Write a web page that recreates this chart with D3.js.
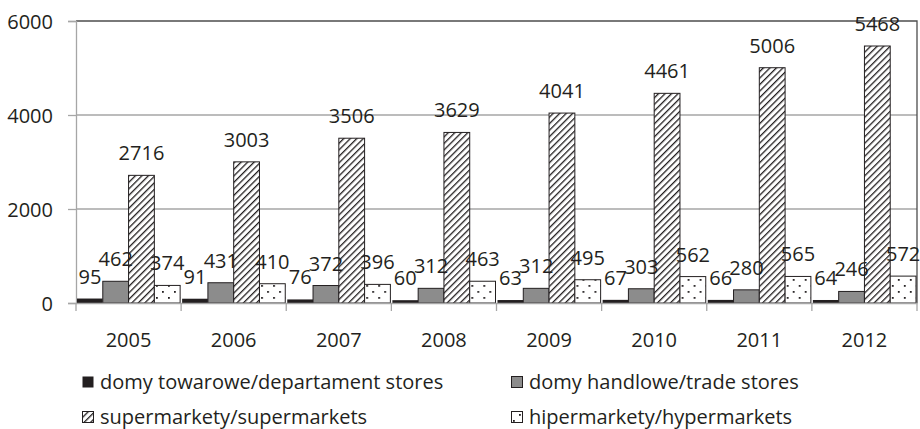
<!DOCTYPE html>
<html lang="pl">
<head>
  <meta charset="UTF-8">
  <title>Sklepy wielkopowierzchniowe 2005-2012</title>
  <script src="https://d3js.org/d3.v7.min.js"></script>
  <style>
    body {
      margin: 0;
      background: #fff;
      font-family: "Open Sans", sans-serif;
    }
    svg text {
      fill: #231f20;
    }
  </style>
</head>
<body>
  <div id="chart"></div>
  <script>
    // data
    const years = ["2005", "2006", "2007", "2008", "2009", "2010", "2011", "2012"];
    const seriesNames = [
      "domy towarowe/departament stores",
      "domy handlowe/trade stores",
      "supermarkety/supermarkets",
      "hipermarkety/hypermarkets"
    ];
    const departmentStores = [95, 91, 76, 60, 63, 67, 66, 64];
    const tradeStores = [462, 431, 372, 312, 312, 303, 280, 246];
    const supermarkets = [2716, 3003, 3506, 3629, 4041, 4461, 5006, 5468];
    const hypermarkets = [374, 410, 396, 463, 495, 562, 565, 572];
    const yTicks = [0, 2000, 4000, 6000];

    const seriesValues = [departmentStores, tradeStores, supermarkets, hypermarkets];
    const fills = ["#231f20", "#8c8c8c", "url(#hatch)", "url(#dots)"];

    const width = 920, height = 429;
    const margin = { top: 21, right: 3, bottom: 126, left: 76 };
    const fontSize = "20px";

    const svg = d3.select("#chart")
      .append("svg")
      .attr("width", width)
      .attr("height", height);

    // patterns
    const defs = svg.append("defs");
    const hatch = defs.append("pattern")
      .attr("id", "hatch")
      .attr("patternUnits", "userSpaceOnUse")
      .attr("width", 4.6)
      .attr("height", 4.6)
      .attr("patternTransform", "rotate(45)");
    hatch.append("rect").attr("width", 4.6).attr("height", 4.6).attr("fill", "#fff");
    hatch.append("line")
      .attr("x1", 0).attr("y1", 0).attr("x2", 0).attr("y2", 4.6)
      .attr("stroke", "#231f20")
      .attr("stroke-width", 2.6);

    const dots = defs.append("pattern")
      .attr("id", "dots")
      .attr("patternUnits", "userSpaceOnUse")
      .attr("width", 12)
      .attr("height", 12);
    dots.append("rect").attr("width", 12).attr("height", 12).attr("fill", "#fff");
    dots.append("rect").attr("x", 2).attr("y", 3).attr("width", 1.8).attr("height", 1.8).attr("fill", "#231f20");
    dots.append("rect").attr("x", 8).attr("y", 9).attr("width", 1.8).attr("height", 1.8).attr("fill", "#231f20");

    const x0 = d3.scaleBand()
      .domain(years)
      .range([margin.left, width - margin.right]);

    const x1 = d3.scaleBand()
      .domain(d3.range(seriesNames.length))
      .range([1, x0.bandwidth() - 1]);

    const y = d3.scaleLinear()
      .domain([0, 6000])
      .range([height - margin.bottom, margin.top]);

    // gridlines
    svg.append("g")
      .selectAll("line")
      .data(yTicks.filter(d => d > 0 && d < 6000))
      .enter().append("line")
      .attr("x1", margin.left)
      .attr("x2", width - margin.right)
      .attr("y1", d => y(d))
      .attr("y2", d => y(d))
      .attr("stroke", "#a6a6a6")
      .attr("stroke-width", 1.3);

    // plot frame top + right
    svg.append("path")
      .attr("d", `M${margin.left},${y(6000)}H${width - margin.right}V${y(0)}`)
      .attr("fill", "none")
      .attr("stroke", "#4d4d4d")
      .attr("stroke-width", 1.3);

    // y axis
    const yAxis = svg.append("g")
      .attr("transform", `translate(${margin.left},0)`)
      .call(d3.axisLeft(y).tickValues(yTicks).tickFormat(d3.format("d")).tickSize(8).tickPadding(15));
    yAxis.select(".domain").attr("stroke", "#a6a6a6").attr("stroke-width", 1.3);
    yAxis.selectAll(".tick line").attr("stroke", "#a6a6a6").attr("stroke-width", 1.3);
    yAxis.selectAll(".tick text")
      .style("font-family", "Open Sans, sans-serif")
      .style("font-size", fontSize)
      .attr("dy", "0.36em");

    // bars
    const groups = svg.append("g")
      .selectAll("g")
      .data(years)
      .enter().append("g")
      .attr("transform", d => `translate(${x0(d)},0)`);

    groups.selectAll("rect")
      .data((d, i) => seriesValues.map((s, k) => ({ k: k, v: s[i] })))
      .enter().append("rect")
      .attr("x", d => x1(d.k))
      .attr("y", d => y(d.v))
      .attr("width", x1.bandwidth())
      .attr("height", d => y(0) - y(d.v))
      .attr("fill", d => fills[d.k])
      .attr("stroke", d => d.k === 0 ? "none" : "#231f20")
      .attr("stroke-width", 1);

    groups.selectAll("text")
      .data((d, i) => seriesValues.map((s, k) => ({ k: k, v: s[i] })))
      .enter().append("text")
      .attr("x", d => x1(d.k) + x1.bandwidth() / 2)
      .attr("y", d => y(d.v) - 15)
      .attr("text-anchor", "middle")
      .style("font-size", fontSize)
      .text(d => d.v);

    // x axis
    const xAxis = svg.append("g")
      .attr("transform", `translate(0,${y(0)})`)
      .call(d3.axisBottom(x0).tickSize(0).tickPadding(30));
    xAxis.select(".domain").attr("stroke", "#a6a6a6").attr("stroke-width", 1.3);
    xAxis.selectAll(".tick text")
      .style("font-family", "Open Sans, sans-serif")
      .style("font-size", fontSize);
    xAxis.selectAll(".sep")
      .data(years.concat(["end"]))
      .enter().append("line")
      .attr("class", "sep")
      .attr("x1", (d, i) => i < years.length ? x0(d) : x0.range()[1])
      .attr("x2", (d, i) => i < years.length ? x0(d) : x0.range()[1])
      .attr("y1", 0)
      .attr("y2", 8)
      .attr("stroke", "#a6a6a6")
      .attr("stroke-width", 1.3);

    // legend
    const legendPos = [[82, 382], [511, 382], [82, 417], [511, 417]];
    const legend = svg.append("g")
      .selectAll("g")
      .data(seriesNames)
      .enter().append("g")
      .attr("transform", (d, i) => `translate(${legendPos[i][0]},${legendPos[i][1]})`);

    legend.append("rect")
      .attr("x", 0.5)
      .attr("y", -5.5)
      .attr("width", 11)
      .attr("height", 11)
      .attr("fill", (d, i) => fills[i])
      .attr("stroke", (d, i) => i === 0 ? "none" : "#231f20")
      .attr("stroke-width", 1);

    legend.append("text")
      .attr("x", 18)
      .attr("y", 0)
      .attr("dy", "0.36em")
      .style("font-size", fontSize)
      .text(d => d);
  </script>
</body>
</html>
